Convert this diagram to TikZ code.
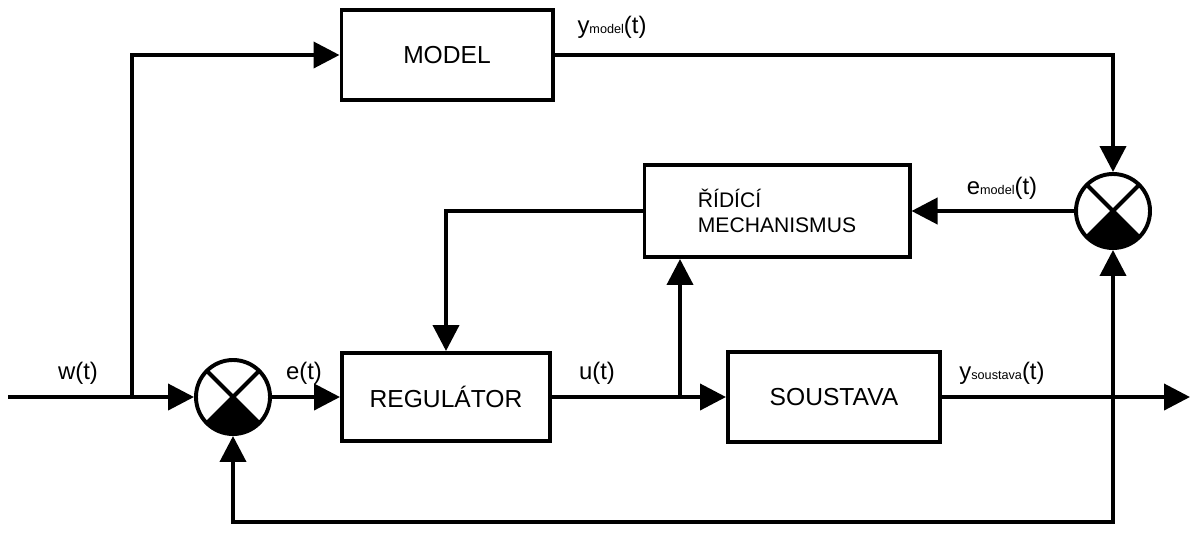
\documentclass[tikz,border=0pt]{standalone}
\usepackage{fontspec}
\setmainfont{Liberation Sans}
\usetikzlibrary{arrows.meta}
\newcommand{\subtext}[1]{{\fontsize{9}{9}\selectfont #1}}

\begin{document}
\begin{tikzpicture}[x=0.025cm,y=-0.025cm,line width=2.8pt,
  block/.style={draw,inner sep=0pt,font=\fontsize{17.5}{21}\selectfont},
  sumjoint/.style={circle,draw,inner sep=0pt,minimum size=1.85cm,
    path picture={
      \fill (path picture bounding box.center) -- (path picture bounding box.south west)
        -- (path picture bounding box.south east) -- cycle;
      \draw[line width=2.8pt] (path picture bounding box.north west) -- (path picture bounding box.south east)
        (path picture bounding box.north east) -- (path picture bounding box.south west);
    }},
  signal/.style={inner sep=0pt,font=\fontsize{17}{20}\selectfont},
  arr/.style={-{Triangle[length=0.65cm,width=0.65cm]}}]
\useasboundingbox (0,0) rectangle (1195,554);

% blocks
\node (model) at (447,55) [block,minimum width=5.275cm,minimum height=2.25cm] {MODEL};
\node (regulator) at (446,397) [block,minimum width=5.2cm,minimum height=2.2cm] {REGULÁTOR};
\node (soustava) at (834,397) [block,minimum width=5.3cm,minimum height=2.25cm] {SOUSTAVA};
\node (ridici) at (777,211) [block,minimum width=6.625cm,minimum height=2.3cm,
  align=left,font=\fontsize{15}{17.5}\selectfont] {ŘÍDÍCÍ\\MECHANISMUS};

% summing junctions
\node (s1) at (233,397) [sumjoint] {};
\node (s2) at (1113,211) [sumjoint] {};

% branch points
\coordinate (in) at (8,397);
\coordinate (out) at (1190,397);
\coordinate (wsplit) at (132,397);
\coordinate (usplit) at (680,397);
\coordinate (ysplit) at (1113,397);
\coordinate (fb) at (1113,522);

% connectors
\draw[arr] (in) -- (s1.west);
\draw[arr] (wsplit) |- (model.west);
\draw[arr] (model.east) -| (s2.north);
\draw[arr] (s1.east) -- (regulator.west);
\draw[arr] (regulator.east) -- (soustava.west);
\draw[arr] (usplit) -- (usplit |- ridici.south);
\draw[arr] (s2.west) -- (ridici.east);
\draw[arr] (ridici.west) -| (regulator.north);
\draw[arr] (soustava.east) -- (out);
\draw[arr] (ysplit) -- (s2.south);
\draw[arr] (ysplit) -- (fb) -| (s1.south);

% signals
\node (wlab) at (78,373) [signal] {w(t)};
\node (elab) at (304,373) [signal] {e(t)};
\node (ulab) at (597,373) [signal] {u(t)};
\node (yslab) at (1002,373) [signal] {y\subtext{soustava}(t)};
\node (ymlab) at (612,27) [signal] {y\subtext{model}(t)};
\node (emlab) at (1002,188) [signal] {e\subtext{model}(t)};
\end{tikzpicture}
\end{document}
